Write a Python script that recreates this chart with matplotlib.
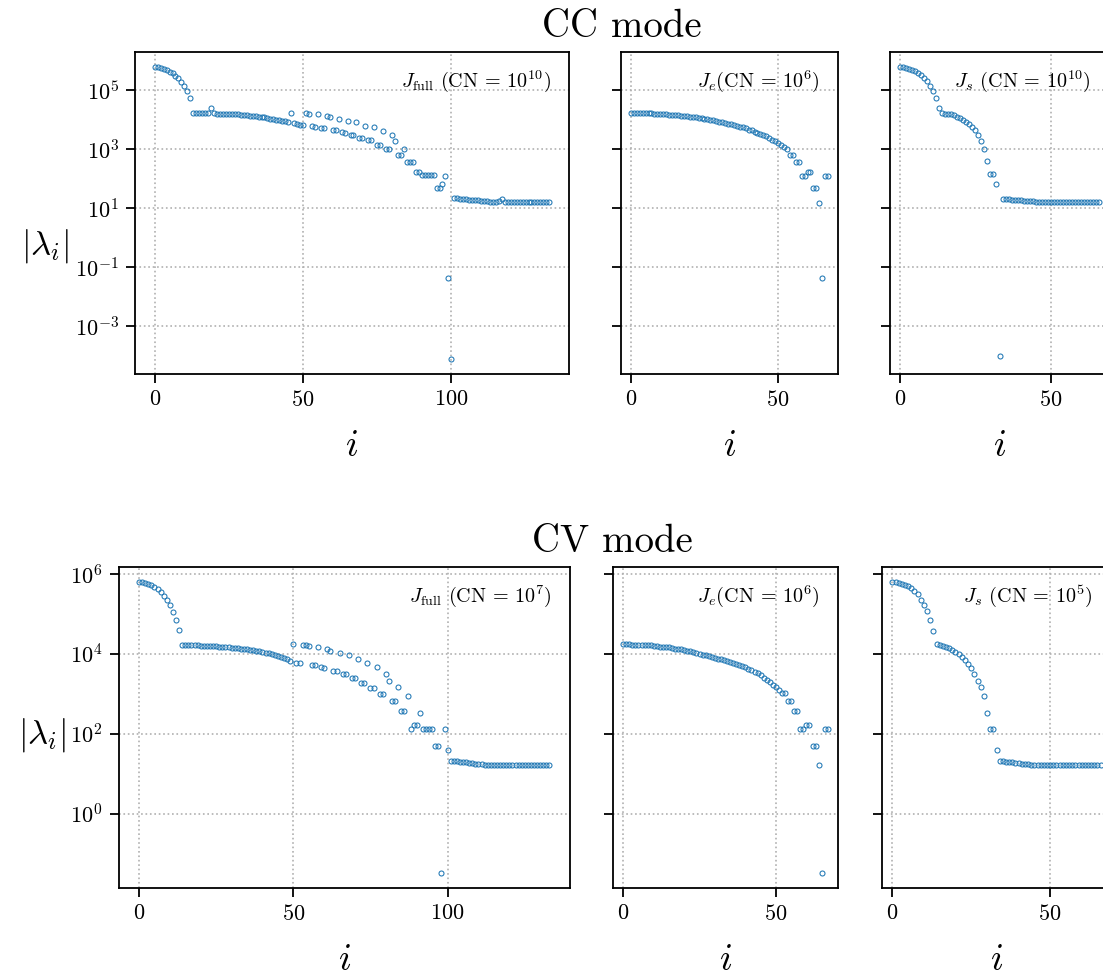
import numpy as np
import matplotlib
matplotlib.use("Agg")
import matplotlib.pyplot as plt
from matplotlib.ticker import MultipleLocator, NullLocator, FixedLocator

# log10 |lambda_i|, one list per panel
cc_full_log10 = [
    5.79, 5.77, 5.74, 5.71, 5.67, 5.62, 5.56, 5.48, 5.39, 5.28, 5.14, 4.97, 4.72,
    4.21, 4.21, 4.21, 4.21, 4.21, 4.21, 4.40,
    4.21, 4.20, 4.20, 4.20, 4.19, 4.19, 4.18, 4.18, 4.17, 4.16, 4.15, 4.14, 4.13,
    4.12, 4.11, 4.10, 4.08, 4.07, 4.05, 4.03, 4.01, 4.00, 3.98, 3.96, 3.94,
    3.90, 4.21, 3.87, 3.85, 3.83, 3.82,
    4.21, 4.20, 3.77, 3.76, 4.17, 3.70, 3.70, 4.12, 4.09, 3.64, 3.64, 4.02,
    3.57, 3.56, 3.95, 3.48, 3.47, 3.90, 3.39, 3.38, 3.79, 3.31, 3.29, 3.73,
    3.15, 3.14, 3.62, 3.00, 2.99, 3.48, 3.27, 2.80, 2.80, 3.00, 2.56, 2.56,
    2.56, 2.22, 2.22, 2.12, 2.12, 2.12, 2.12, 2.12, 1.67, 1.67, 1.81, 2.10,
    -1.37, -4.12,
    1.33, 1.33, 1.32, 1.31, 1.30, 1.29, 1.28, 1.27, 1.26, 1.25, 1.24, 1.23,
    1.22, 1.21, 1.21, 1.23, 1.30, 1.21, 1.21, 1.21, 1.21, 1.21, 1.21, 1.21,
    1.21, 1.21, 1.21, 1.21, 1.21, 1.21, 1.21, 1.21, 1.21,
]
cc_e_log10 = [
    4.23, 4.23, 4.23, 4.22, 4.22, 4.22, 4.21, 4.21, 4.20, 4.20, 4.19, 4.18,
    4.17, 4.16, 4.15, 4.15, 4.14, 4.13, 4.12, 4.11, 4.10, 4.08, 4.07, 4.06,
    4.04, 4.02, 4.01, 3.99, 3.97, 3.95, 3.93, 3.91, 3.88, 3.86, 3.84, 3.81,
    3.79, 3.76, 3.73, 3.70, 3.66, 3.63, 3.59, 3.56, 3.52, 3.48, 3.43, 3.38,
    3.32, 3.27, 3.20, 3.15, 3.07, 3.00, 2.80, 2.80, 2.56, 2.56, 2.10, 2.10,
    2.22, 2.22, 1.67, 1.67, 1.19, -1.37, 2.10, 2.10,
]
cc_s_log10 = [
    5.79, 5.77, 5.75, 5.72, 5.69, 5.64, 5.58, 5.51, 5.42, 5.30, 5.15, 4.97,
    4.72, 4.40, 4.21, 4.20, 4.19, 4.17, 4.14, 4.10, 4.05, 3.99, 3.92, 3.84,
    3.74, 3.63, 3.48, 3.28, 3.00, 2.58, 2.15, 2.15, 1.81, -3.99,
    1.32, 1.31, 1.30, 1.29, 1.28, 1.27, 1.26, 1.25, 1.24, 1.23, 1.23, 1.22,
    1.22, 1.22, 1.22, 1.22, 1.22, 1.22, 1.22, 1.22, 1.22, 1.22, 1.22, 1.22,
    1.22, 1.22, 1.22, 1.22, 1.22, 1.22, 1.22, 1.22, 1.22,
]
cv_full_log10 = [
    5.81, 5.79, 5.78, 5.75, 5.72, 5.68, 5.63, 5.56, 5.46, 5.35, 5.22, 5.06,
    4.86, 4.59,
    4.22, 4.22, 4.22, 4.21, 4.21, 4.21, 4.20, 4.20, 4.20, 4.19, 4.19, 4.19,
    4.18, 4.17, 4.16, 4.16, 4.15, 4.15, 4.14, 4.13, 4.12, 4.11, 4.10, 4.09,
    4.07, 4.06, 4.04, 4.03, 4.01, 3.99, 3.97, 3.95, 3.92, 3.89, 3.86, 3.82,
    4.25, 3.78, 3.77, 4.23, 4.21, 4.19, 3.72, 3.72, 4.16, 3.66, 3.65, 4.13,
    4.07, 3.57, 3.57, 4.03, 3.50, 3.49, 3.97, 3.39, 3.39, 3.87, 3.28, 3.28,
    3.77, 3.15, 3.15, 3.66, 3.00, 3.00, 3.50, 3.32, 2.81, 2.81, 3.16, 2.56,
    2.56, 2.95, 2.11, 2.22, 2.22, 2.53, 2.11, 2.11, 2.11, 2.11, 1.68, 1.68,
    -1.50, 2.11, 1.58,
    1.32, 1.32, 1.31, 1.30, 1.29, 1.28, 1.27, 1.26, 1.25, 1.24, 1.23, 1.22,
    1.22, 1.21, 1.21, 1.21, 1.21, 1.21, 1.21, 1.21, 1.21, 1.21, 1.21, 1.21,
    1.21, 1.21, 1.21, 1.21, 1.21, 1.21, 1.21, 1.21, 1.21,
]
cv_e_log10 = [
    4.24, 4.24, 4.24, 4.23, 4.23, 4.23, 4.22, 4.22, 4.21, 4.21, 4.20, 4.19,
    4.18, 4.18, 4.17, 4.16, 4.14, 4.13, 4.12, 4.11, 4.09, 4.08, 4.06, 4.04,
    4.02, 4.00, 3.98, 3.96, 3.94, 3.92, 3.90, 3.88, 3.86, 3.84, 3.82, 3.80,
    3.78, 3.75, 3.73, 3.70, 3.66, 3.63, 3.59, 3.55, 3.51, 3.46, 3.40, 3.35,
    3.29, 3.23, 3.17, 3.10, 3.02, 3.02, 2.81, 2.81, 2.56, 2.56, 2.12, 2.12,
    2.23, 2.23, 1.68, 1.68, 1.21, -1.50, 2.12, 2.12,
]
cv_s_log10 = [
    5.80, 5.79, 5.77, 5.75, 5.72, 5.69, 5.65, 5.58, 5.50, 5.36, 5.22, 5.07,
    4.86, 4.58, 4.24, 4.22, 4.20, 4.18, 4.14, 4.10, 4.05, 3.99, 3.92, 3.84,
    3.75, 3.64, 3.50, 3.33, 3.16, 2.95, 2.53, 2.12, 2.12, 1.58,
    1.32, 1.31, 1.30, 1.29, 1.28, 1.27, 1.26, 1.25, 1.24, 1.23, 1.22, 1.22,
    1.21, 1.21, 1.21, 1.21, 1.21, 1.21, 1.21, 1.21, 1.21, 1.21, 1.21, 1.21,
    1.21, 1.21, 1.21, 1.21, 1.21, 1.21, 1.21, 1.21, 1.21,
]

cc_labels = [r"$J_{\mathrm{full}}$ (CN = $10^{10}$)", r"$J_e$(CN = $10^{6}$)",
             r"$J_s$ (CN = $10^{10}$)"]
cv_labels = [r"$J_{\mathrm{full}}$ (CN = $10^{7}$)", r"$J_e$(CN = $10^{6}$)",
             r"$J_s$ (CN = $10^{5}$)"]
cc_yticks = [1e-3, 1e-1, 1e1, 1e3, 1e5]
cv_yticks = [1e0, 1e2, 1e4, 1e6]

plt.rcParams["font.family"] = "serif"
plt.rcParams["font.serif"] = ["cmr10"]
plt.rcParams["mathtext.fontset"] = "cm"
plt.rcParams["axes.formatter.use_mathtext"] = True

W, H = 1103, 976
fig = plt.figure(figsize=(W / 100, H / 100), dpi=100)


def px_axes(left, top, right, bottom, sharey=None):
    # place an axes from pixel edges (y measured from the top)
    return fig.add_axes([left / W, 1 - bottom / H, (right - left) / W, (bottom - top) / H],
                        sharey=sharey)


def draw_row(boxes, series, labels, yticks):
    axes = []
    for k, (box, vals, lab) in enumerate(zip(boxes, series, labels)):
        ax = px_axes(*box, sharey=axes[0] if axes else None)
        vals = np.power(10.0, np.array(vals))
        ax.plot(np.arange(len(vals)), vals, "o", ms=3.6, mfc="none", mec="C0", mew=0.75)
        ax.set_yscale("log")
        ax.yaxis.set_major_locator(FixedLocator(yticks))
        ax.yaxis.set_minor_locator(NullLocator())
        ax.xaxis.set_major_locator(MultipleLocator(50))
        ax.grid(True, which="major", ls=":", color="#b0b0b0", lw=1.2)
        ax.tick_params(direction="out", length=6.5, width=1.3, labelsize=16, pad=5)
        if k > 0:
            ax.tick_params(labelleft=False)
        for s in ax.spines.values():
            s.set_linewidth(1.3)
        ax.set_xlabel("$i$", fontsize=27, labelpad=14)
        ax.annotate(lab, xy=(1, 1), xycoords="axes fraction", xytext=(-18, -35),
                    textcoords="offset pixels", ha="right", va="baseline", fontsize=14.5)
        axes.append(ax)
    return axes


draw_row([(135, 52, 569, 374), (621, 52, 838, 374), (890, 52, 1109, 374)],
         [cc_full_log10, cc_e_log10, cc_s_log10], cc_labels, cc_yticks)
draw_row([(118.5, 567, 570, 888), (613, 567, 838, 888), (882, 567, 1111, 888)],
         [cv_full_log10, cv_e_log10, cv_s_log10], cv_labels, cv_yticks)

fig.text(622 / W, 1 - 37 / H, "CC mode", ha="center", va="baseline", fontsize=28)
fig.text(612 / W, 1 - 552 / H, "CV mode", ha="center", va="baseline", fontsize=28)
fig.text(45 / W, 1 - 246 / H, r"$|\lambda_i|$", ha="center", va="center", fontsize=25)
fig.text(42 / W, 1 - 735 / H, r"$|\lambda_i|$", ha="center", va="center", fontsize=25)

fig.savefig("out.png", dpi=100)
